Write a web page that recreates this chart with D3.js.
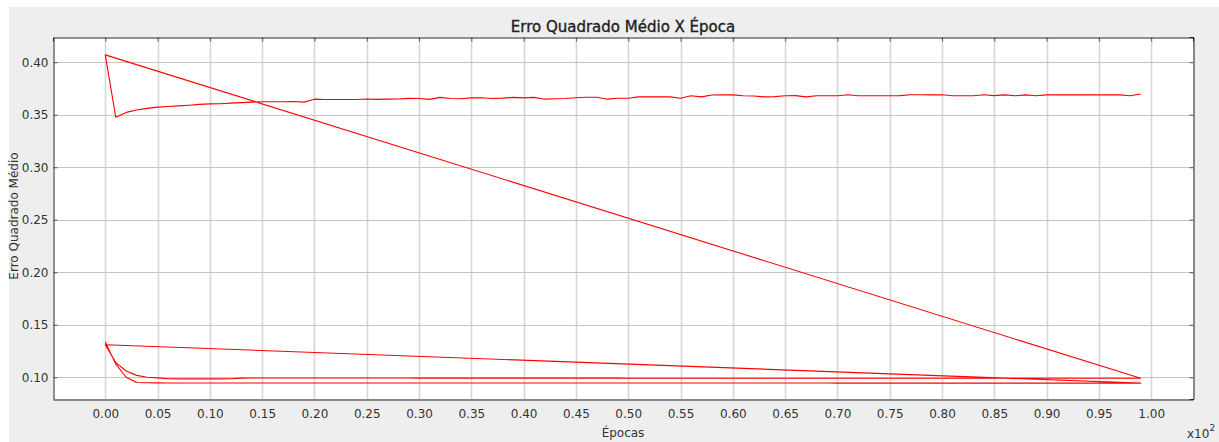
<!DOCTYPE html>
<html>
<head>
<meta charset="utf-8">
<script src="https://cdn.jsdelivr.net/npm/d3@7/dist/d3.min.js"></script>
<style>
  html, body { margin: 0; padding: 0; background: #ffffff; }
  svg { display: block; font-family: "DejaVu Sans", sans-serif; }
</style>
</head>
<body>
<svg id="chart" width="1219" height="442"></svg>
<script>
// ---- data (epochs in units of x10^2) ----
const epochs = [0,1,2,3,4,5,6,7,8,9,10,11,12,13,14,15,16,17,18,19,20,21,22,23,24,25,26,27,28,29,
  30,31,32,33,34,35,36,37,38,39,40,41,42,43,44,45,46,47,48,49,50,51,52,53,54,55,56,57,58,59,
  60,61,62,63,64,65,66,67,68,69,70,71,72,73,74,75,76,77,78,79,80,81,82,83,84,85,86,87,88,89,
  90,91,92,93,94,95,96,97,98,99];

// run 1: lowest curve
const run1 = [0.1335,0.1125,0.1000,0.0950,0.0948,0.0947,0.0946,0.0946,0.0946,0.0946,
  0.0946,0.0946,0.0946,0.0946,0.0946,0.0946,0.0946,0.0946,0.0946,0.0946,
  0.0946,0.0946,0.0946,0.0946,0.0946,0.0946,0.0946,0.0946,0.0946,0.0946,
  0.0945,0.0945,0.0945,0.0945,0.0945,0.0945,0.0945,0.0945,0.0945,0.0945,
  0.0945,0.0945,0.0945,0.0945,0.0945,0.0945,0.0945,0.0945,0.0945,0.0945,
  0.0945,0.0945,0.0945,0.0945,0.0945,0.0945,0.0945,0.0945,0.0945,0.0945,
  0.0945,0.0945,0.0945,0.0945,0.0945,0.0945,0.0945,0.0945,0.0945,0.0945,
  0.0944,0.0944,0.0944,0.0944,0.0944,0.0944,0.0944,0.0944,0.0944,0.0944,
  0.0944,0.0944,0.0944,0.0944,0.0944,0.0944,0.0944,0.0944,0.0944,0.0944,
  0.0944,0.0944,0.0944,0.0944,0.0944,0.0944,0.0944,0.0944,0.0944,0.0944];

// run 2: middle curve
const run2 = [0.1310,0.1140,0.1060,0.1018,0.1000,0.0994,0.0986,0.0985,0.0985,0.0985,
  0.0985,0.0985,0.0986,0.0992,0.0993,0.0993,0.0993,0.0993,0.0993,0.0993,
  0.0993,0.0993,0.0993,0.0993,0.0993,0.0993,0.0993,0.0993,0.0993,0.0993,
  0.0992,0.0992,0.0992,0.0992,0.0992,0.0992,0.0992,0.0992,0.0992,0.0992,
  0.0992,0.0992,0.0992,0.0992,0.0992,0.0992,0.0992,0.0992,0.0992,0.0992,
  0.0991,0.0991,0.0991,0.0991,0.0991,0.0991,0.0991,0.0991,0.0991,0.0991,
  0.0991,0.0991,0.0991,0.0991,0.0991,0.0991,0.0991,0.0991,0.0991,0.0991,
  0.0991,0.0991,0.0991,0.0991,0.0991,0.0991,0.0991,0.0991,0.0991,0.0991,
  0.0990,0.0990,0.0990,0.0990,0.0990,0.0990,0.0990,0.0990,0.0990,0.0990,
  0.0990,0.0990,0.0990,0.0990,0.0990,0.0990,0.0990,0.0990,0.0990,0.0990];

// run 3: upper curve
const run3 = [0.4070,0.3476,0.3522,0.3545,0.3560,0.3572,0.3578,0.3584,0.3590,0.3598,
  0.3603,0.3605,0.3610,0.3615,0.3620,0.3624,0.3624,0.3624,0.3626,0.3620,
  0.3648,0.3645,0.3645,0.3645,0.3645,0.3650,0.3646,0.3648,0.3650,0.3656,
  0.3655,0.3646,0.3665,0.3654,0.3652,0.3660,0.3662,0.3655,0.3658,0.3665,
  0.3660,0.3665,0.3648,0.3652,0.3655,0.3662,0.3666,0.3666,0.3648,0.3657,
  0.3657,0.3670,0.3670,0.3670,0.3670,0.3657,0.3680,0.3670,0.3688,0.3690,
  0.3689,0.3680,0.3678,0.3670,0.3672,0.3680,0.3682,0.3670,0.3680,0.3680,
  0.3681,0.3690,0.3680,0.3680,0.3680,0.3681,0.3682,0.3690,0.3690,0.3689,
  0.3690,0.3680,0.3680,0.3681,0.3690,0.3682,0.3689,0.3680,0.3689,0.3680,
  0.3689,0.3689,0.3689,0.3689,0.3689,0.3689,0.3689,0.3689,0.3680,0.3698];

const xTicks = [0,0.05,0.10,0.15,0.20,0.25,0.30,0.35,0.40,0.45,0.50,0.55,0.60,0.65,0.70,0.75,0.80,0.85,0.90,0.95,1.00];
const yTicks = [0.10,0.15,0.20,0.25,0.30,0.35,0.40];

const titleText = "Erro Quadrado Médio X Época";
const xLabelText = "Épocas";
const yLabelText = "Erro Quadrado Médio";

// ---- layout ----
const svg = d3.select("#chart");
const L = 53, R = 1193, T = 37, B = 399;

svg.append("rect").attr("x", 9).attr("y", 7).attr("width", 1219 - 9).attr("height", 442 - 7)
  .attr("fill", "#eeeeee");
svg.append("rect").attr("x", L).attr("y", T).attr("width", R - L).attr("height", B - T)
  .attr("fill", "#ffffff");

const x = d3.scaleLinear().domain([-0.05, 1.04]).range([L, R]);
const y = d3.scaleLinear().domain([0.0793, 0.424]).range([B, T]);

// grid
const grid = svg.append("g");
grid.selectAll("line.vg").data(xTicks).enter().append("line")
  .attr("x1", d => Math.round(x(d)) + 0.5).attr("x2", d => Math.round(x(d)) + 0.5)
  .attr("y1", T).attr("y2", B)
  .attr("stroke", "#d6d6d6").attr("stroke-width", 1.6);
grid.selectAll("line.hg").data(yTicks).enter().append("line")
  .attr("y1", d => Math.round(y(d)) + 0.5).attr("y2", d => Math.round(y(d)) + 0.5)
  .attr("x1", L).attr("x2", R)
  .attr("stroke", "#c4c4c4").attr("stroke-width", 1);

// data line (the runs are plotted as one continuous series)
const pts = [];
[run1, run2, run3].forEach(run => run.forEach((v, i) => pts.push([epochs[i] / 100, v])));
const line = d3.line().x(d => x(d[0])).y(d => y(d[1]));
svg.append("path").datum(pts).attr("d", line)
  .attr("fill", "none").attr("stroke", "#ff0000").attr("stroke-width", 1.1)
  .attr("stroke-linejoin", "round");

// axes frame
const axB = d3.axisBottom(x).tickValues(xTicks).tickSize(0).tickPadding(10).tickFormat(d3.format(".2f"));
const axL = d3.axisLeft(y).tickValues(yTicks).tickSize(0).tickPadding(5).tickFormat(d3.format(".2f"));
const axT = d3.axisTop(x).tickValues(xTicks).tickSize(-4).tickFormat("");
const axR = d3.axisRight(y).tickValues(yTicks).tickSize(-4).tickFormat("");
const axLi = d3.axisLeft(y).tickValues(yTicks).tickSize(-4).tickFormat("");

function styleAxis(g) {
  g.select(".domain").attr("stroke", "#222").attr("stroke-width", 1);
  g.selectAll(".tick line").attr("stroke", "#555").attr("stroke-width", 1);
  g.selectAll("text").attr("fill", "#333").attr("font-size", "12px")
    .attr("font-family", "DejaVu Sans, sans-serif");
}
svg.append("g").attr("transform", `translate(0,${B + 0.5})`).call(axB).call(styleAxis);
svg.append("g").attr("transform", `translate(${L + 0.5},0)`).call(axL).call(styleAxis);
svg.append("g").attr("transform", `translate(${L + 0.5},0)`).call(axLi).call(styleAxis)
  .select(".domain").remove();
svg.append("g").attr("transform", `translate(0,${T + 0.5})`).call(axT).call(styleAxis);
svg.append("g").attr("transform", `translate(${R + 0.5},0)`).call(axR).call(styleAxis);

// title and labels
svg.append("text").attr("x", 623).attr("y", 32).attr("text-anchor", "middle")
  .attr("font-size", "15px").attr("fill", "#222")
  .attr("stroke", "#222").attr("stroke-width", 0.35)
  .text(titleText);
svg.append("text").attr("x", 623).attr("y", 437).attr("text-anchor", "middle")
  .attr("font-size", "12px").attr("fill", "#333").text(xLabelText);
svg.append("text").attr("transform", "translate(18,216) rotate(-90)").attr("text-anchor", "middle")
  .attr("font-size", "12px").attr("fill", "#333").text(yLabelText);
const sc = svg.append("text").attr("x", 1187).attr("y", 438).attr("font-size", "12px").attr("fill", "#333");
sc.append("tspan").text("x10");
sc.append("tspan").attr("dy", -7).attr("font-size", "9px").text("2");
</script>
</body>
</html>
